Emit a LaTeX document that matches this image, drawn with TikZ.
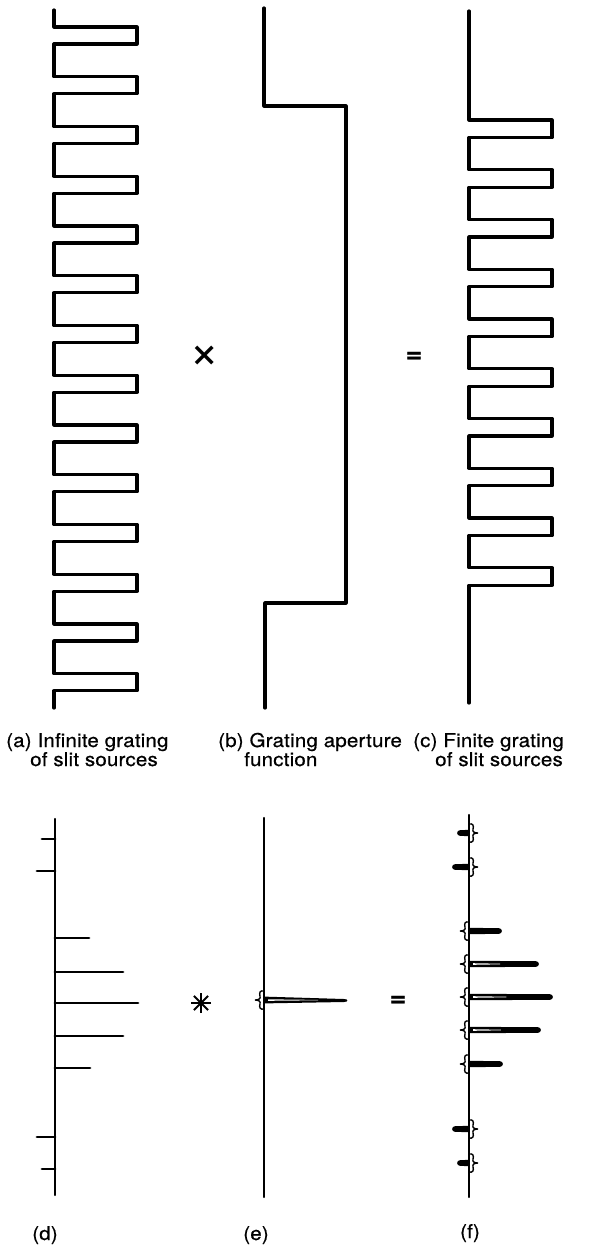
\documentclass[tikz,border=0pt]{standalone}
\usepackage{fontspec}
\setmainfont{TeX Gyre Heros}[LetterSpace=1, FakeBold=0.6, FakeStretch=1.08]
\newfontfamily\opfont{TeX Gyre Heros}
\tikzset{
  lobe/.pic={\draw[line width=1.4pt, line cap=round]
    (6,-9) .. controls (2,-10) and (1,-7) .. (2,-4)
           .. controls (3,-1) and (0,0) .. (-3,0)
           .. controls (0,0) and (3,1) .. (2,4)
           .. controls (1,7) and (2,10) .. (6,9);}
}
\begin{document}
\begin{tikzpicture}[x=1pt,y=-1pt,
  curve/.style={line width=3.2pt, line join=round, line cap=round},
  axis/.style={line width=2.4pt, line cap=round},
  tickline/.style={line width=2.8pt, line cap=round},
  lbl/.style={font=\fontsize{19}{19}\selectfont, inner sep=0pt, anchor=base west},
  sub/.style={font=\fontsize{19}{19}\selectfont, inner sep=0pt, anchor=base},
  eqsign/.style={inner sep=0pt, font=\fontsize{26}{26}\selectfont\bfseries},
  op/.style={inner sep=0pt}
]
\useasboundingbox (0,0) rectangle (612,1254);

% (a) infinite comb of slits
\draw[curve] (54,10)
  \foreach \k in {0,...,13} {
    -- (54,{27+49.75*\k}) -- (137,{27+49.75*\k})
    -- (137,{44+49.75*\k}) -- (54,{44+49.75*\k})
  } -- (54,708);

% (b) aperture window
\draw[curve] (264,8) -- (264,106) -- (346,106) -- (346,603) -- (265,603) -- (265,708);

% (c) finite comb
\draw[curve] (469,11)
  \foreach \k in {0,...,9} {
    -- (469,{120+49.75*\k}) -- (552,{120+49.75*\k})
    -- (552,{137.5+49.75*\k}) -- (469,{137.5+49.75*\k})
  } -- (469,703);

% operators, top row
\node[op, font=\fontsize{52}{52}\selectfont\opfont] (times) at (205,357) {×};
\node[eqsign] (eqtop) at (414,357) {=};

% captions, top row
\node[lbl] (la1) at (6,747) {(a) Infinite grating};
\node[lbl] (la2) at (30,766) {of slit sources};
\node[lbl] (lb1) at (218,747) {(b) Grating aperture};
\node[lbl] (lb2) at (244,766) {function};
\node[lbl] (lc1) at (413,747) {(c) Finite grating};
\node[lbl] (lc2) at (435,766) {of slit sources};

% (d) spectrum of the infinite grating, windowed by the envelope
\draw[axis] (55,819) -- (55,1195);
\foreach \y/\xe in {839/42, 871/37, 1137/37, 1169/42}
  \draw[tickline] (55,\y) -- (\xe,\y);
\foreach \y/\xe in {938/89, 972/123, 1003/138, 1036/123, 1068/90}
  \draw[tickline] (55,\y) -- (\xe,\y);

% convolution operator
\coordinate (star) at (201,1003);
\foreach \a in {0,45,90,135}
  \draw[line width=2pt] (star) ++(\a:10) -- ++(\a+180:20);

% (e) transform of the aperture: one narrow peak
\draw[axis] (264,818) -- (264,1197);
\fill (264,996.6) -- (344,999.0) .. controls (348.5,999.0) and (348.5,1002.0) .. (344,1002.0)
  -- (264,1003.4) -- cycle;
\fill[white] (268,999.3) -- (318,999.9) -- (318,1000.3) -- (268,1000.8) -- cycle;
\pic at (258,1000) {lobe};

\node[eqsign] (eqbot) at (398,1001) {=};

% (f) spectrum of the finite grating
\draw[axis] (469,815) -- (469,1197);
\foreach \y/\xe/\big in {931/501/0, 964/538/1, 997/552/1, 1030/540/1, 1064/502/0} {
  \fill (469,{\y-3.2}) -- ({\xe-2},{\y-2.8})
    .. controls ({\xe+1.8},{\y-2.8}) and ({\xe+1.8},{\y+2.8}) .. ({\xe-2},{\y+2.8})
    -- (469,{\y+3.2}) -- cycle;
  \ifnum\big=1
    \fill[white] (473,{\y-0.8}) -- ({469+0.45*(\xe-469)},{\y-0.3})
      -- ({469+0.45*(\xe-469)},{\y+0.3}) -- (473,{\y+0.8}) -- cycle;
  \fi
  \pic at (463,\y) {lobe};
}
\foreach \y/\xe in {833/458, 867/453, 1129/453, 1163/458} {
  \fill (469,{\y-3.2}) -- ({\xe+2},{\y-2.8})
    .. controls ({\xe-1.8},{\y-2.8}) and ({\xe-1.8},{\y+2.8}) .. ({\xe+2},{\y+2.8})
    -- (469,{\y+3.2}) -- cycle;
  \pic[xscale=-1] at (475,\y) {lobe};
}

% captions, bottom row
\node[sub] (ld) at (45,1240) {(d)};
\node[sub] (le) at (256,1240) {(e)};
\node[sub] (lf) at (470,1238) {(f)};
\end{tikzpicture}
\end{document}
